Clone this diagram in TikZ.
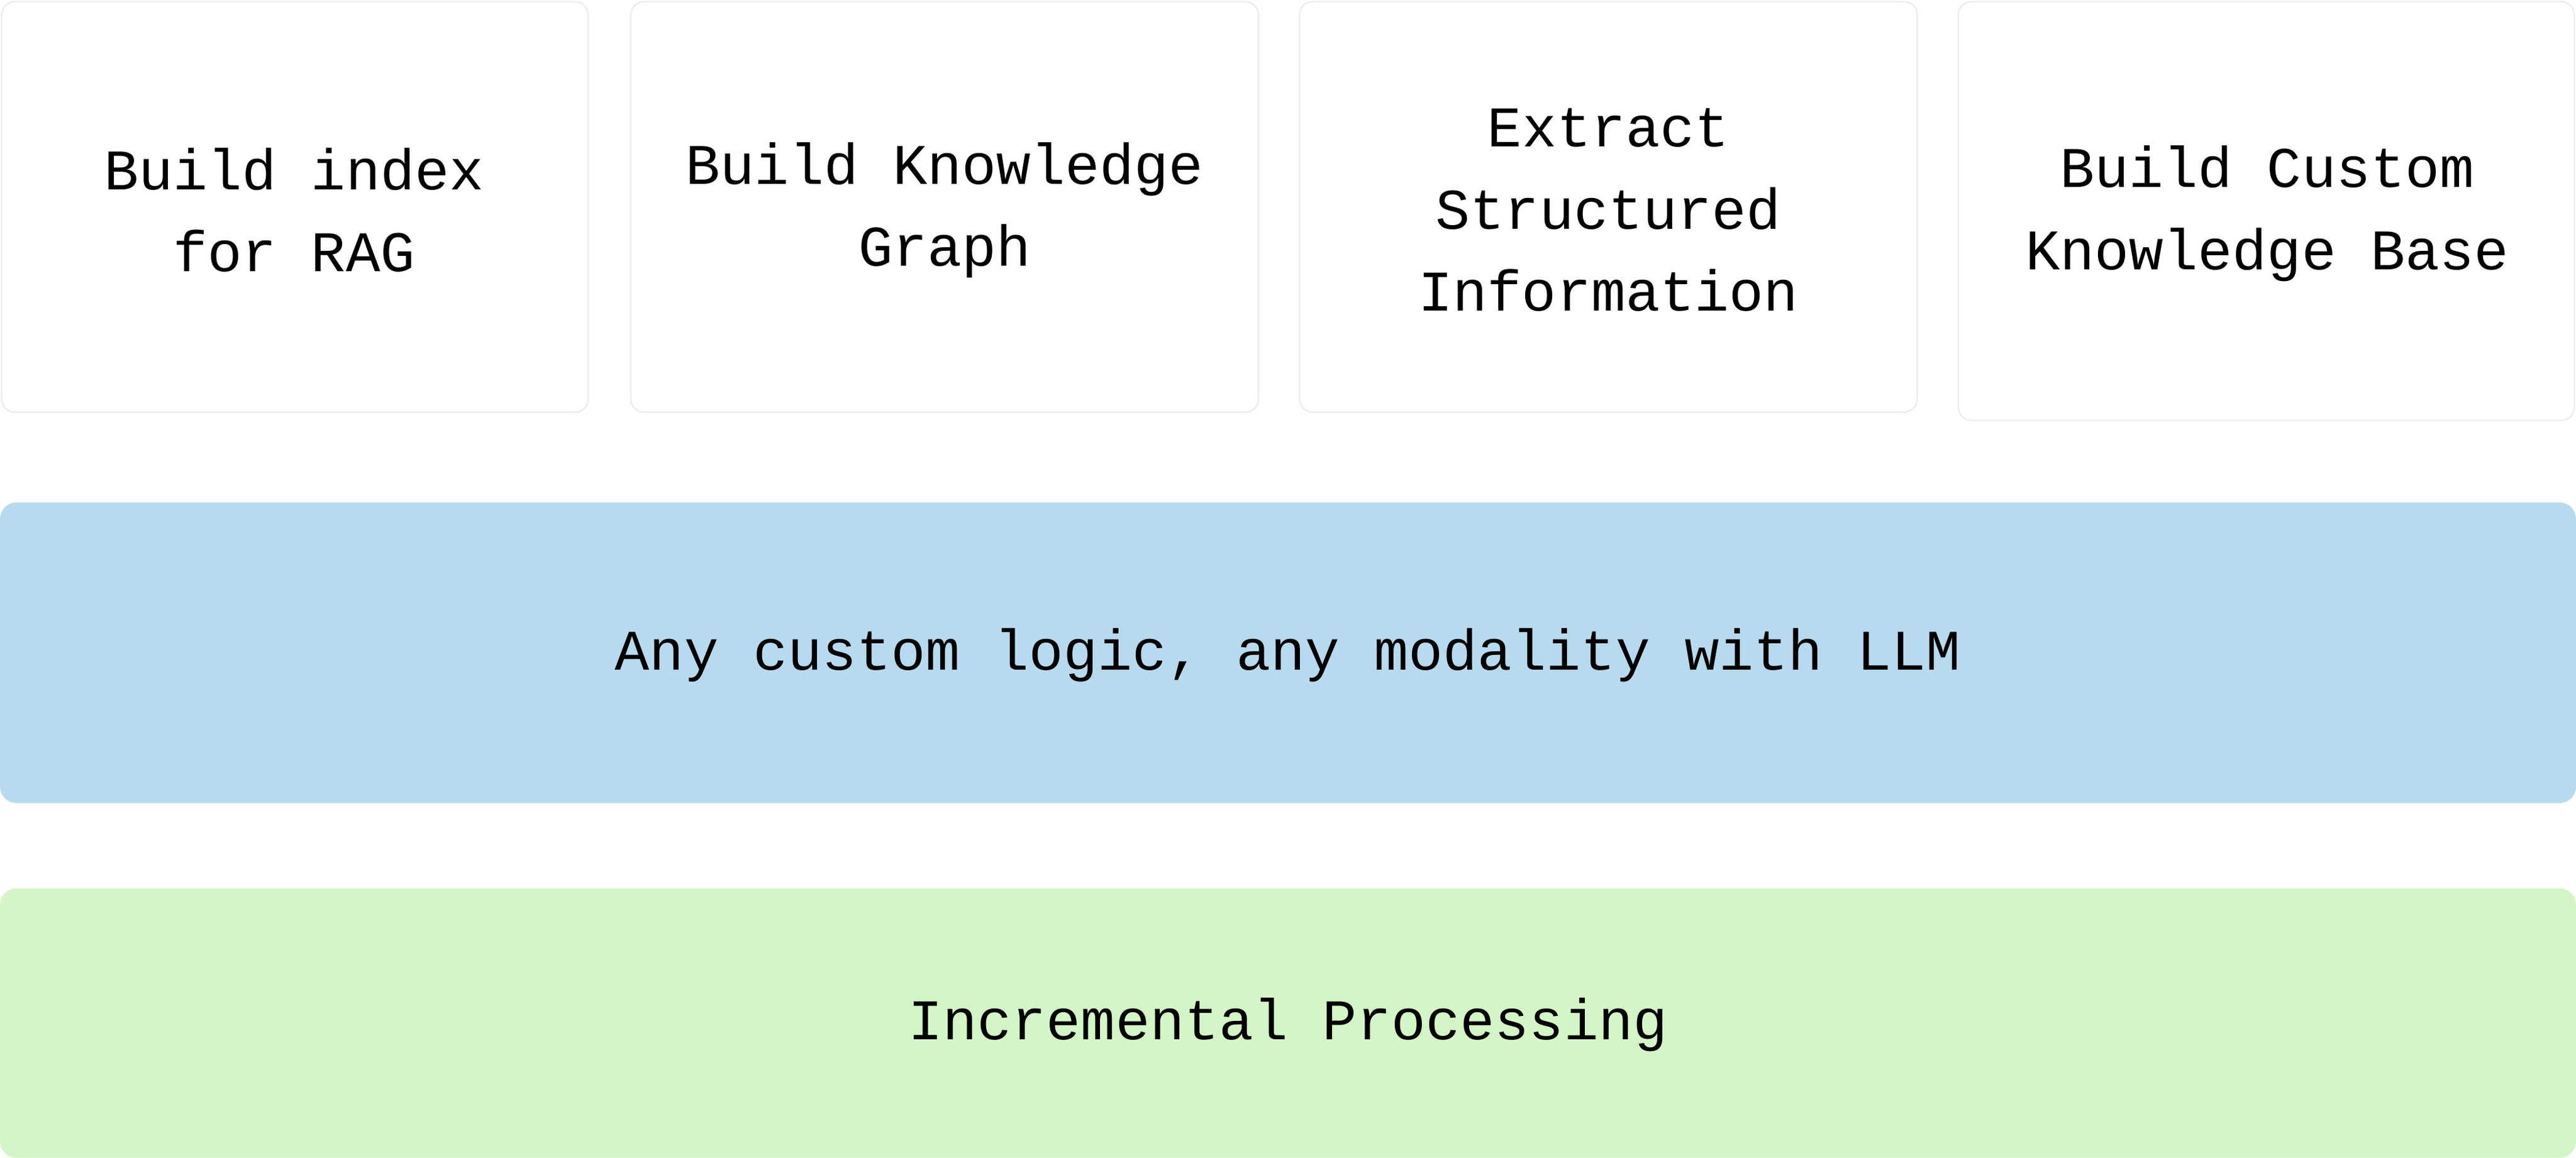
\documentclass[tikz,border=0pt]{standalone}
\usepackage{fontspec}
\setmonofont{Liberation Mono}
\begin{document}
\begin{tikzpicture}[x=1pt,y=-1pt,
  card/.style={draw=black!8,line width=0.8pt,rounded corners=8pt,fill=white},
  band/.style={rounded corners=10pt},
  lbl/.style={font=\ttfamily\fontsize{35}{50}\selectfont,align=center,text=black}]
\useasboundingbox (0,0) rectangle (1568,705);
\fill[white] (0,0) rectangle (1568,705);
\draw[card] (1,1) rectangle (358,251);
\draw[card] (384,1) rectangle (766,251);
\draw[card] (791,1) rectangle (1167,251);
\draw[card] (1192,1) rectangle (1567,256);
\fill[band,fill={rgb,255:red,184;green,218;blue,238}] (0,306) rectangle (1568,489);
\fill[band,fill={rgb,255:red,212;green,245;blue,197}] (0,541) rectangle (1568,705);
\node[lbl] (a) at (179,128) {Build index\\ for RAG};
\node[lbl] (b) at (575,128) {Build Knowledge\\Graph};
\node[lbl] (c) at (979,128) {Extract\\Structured\\Information};
\node[lbl] (d) at (1380,130) {Build Custom\\Knowledge Base};
\node[lbl] (e) at (784,399) {Any custom logic, any modality with LLM};
\node[lbl] (f) at (784,624) {Incremental Processing};
\end{tikzpicture}
\end{document}
